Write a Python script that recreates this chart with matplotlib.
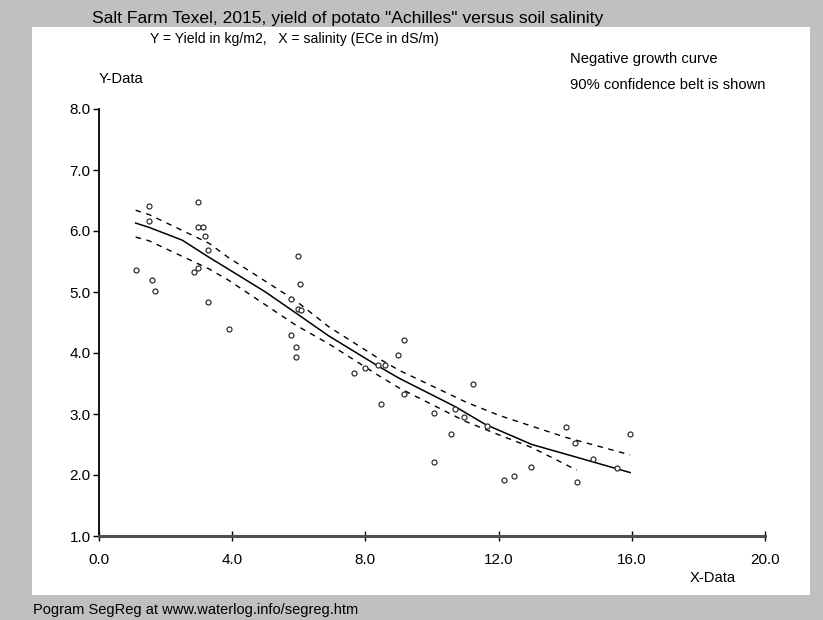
import numpy as np
import matplotlib.pyplot as plt
from matplotlib.patches import Rectangle

plt.rcParams['font.family'] = ['Liberation Sans', 'DejaVu Sans']

# observed points (salinity ECe dS/m, yield kg/m2)
x_obs = [1.11, 1.51, 1.51, 1.58, 1.68, 2.86, 2.98, 2.98, 2.98, 3.11, 3.18, 3.26,
         3.26, 3.90, 5.77, 5.77, 5.91, 5.91, 5.97, 5.99, 6.05, 6.06, 7.66, 7.99,
         8.37, 8.46, 8.59, 8.97, 9.17, 9.17, 10.05, 10.05, 10.57, 10.68, 10.97,
         11.24, 11.66, 12.17, 12.45, 12.96, 14.03, 14.28, 14.36, 14.84, 15.56, 15.95]
y_obs = [5.36, 6.41, 6.17, 5.19, 5.02, 5.32, 6.48, 6.07, 5.39, 6.07, 5.91, 5.69,
         4.84, 4.40, 4.89, 4.30, 4.10, 3.94, 5.59, 4.72, 5.13, 4.70, 3.68, 3.75,
         3.81, 3.16, 3.81, 3.97, 4.21, 3.32, 3.01, 2.22, 2.68, 3.09, 2.95,
         3.49, 2.81, 1.91, 1.98, 2.13, 2.79, 2.52, 1.89, 2.26, 2.11, 2.68]

# fitted negative growth curve
x_fit = [1.1, 1.5, 2.5, 3.3, 3.9, 5.0, 5.9, 6.9, 8.4, 9.0, 10.7, 11.6, 13.0, 14.8, 15.95]
y_fit = [6.13, 6.06, 5.85, 5.57, 5.37, 5.00, 4.66, 4.28, 3.78, 3.59, 3.12, 2.83, 2.50, 2.22, 2.04]

# 90% confidence belt
x_up = [1.1, 1.5, 3.3, 3.9, 5.9, 6.9, 8.4, 9.0, 11.0, 12.0, 14.0, 15.95]
y_up = [6.34, 6.27, 5.80, 5.56, 4.86, 4.43, 3.91, 3.72, 3.20, 2.98, 2.62, 2.33]
x_lo = [1.1, 1.5, 3.3, 3.9, 5.9, 6.9, 8.4, 9.0, 11.0, 12.0, 13.0, 14.35]
y_lo = [5.90, 5.84, 5.38, 5.19, 4.46, 4.15, 3.63, 3.43, 2.88, 2.66, 2.45, 2.08]

xticks = [0, 4, 8, 12, 16, 20]
yticks = [1, 2, 3, 4, 5, 6, 7, 8]

W, H = 823, 620
fig = plt.figure(figsize=(W / 100, H / 100), dpi=100)
fig.patch.set_facecolor('#c0c0c0')

# white panel
fig.add_artist(Rectangle((32 / W, 1 - 595 / H), (810 - 32) / W, (595 - 27) / H,
                         transform=fig.transFigure, facecolor='white',
                         edgecolor='none', zorder=0))

ax = fig.add_axes([99 / W, 1 - 536 / H, 666 / W, 427 / H])
ax.set_facecolor('none')
ax.set_xlim(0, 20)
ax.set_ylim(1, 8)

ax.plot(x_fit, y_fit, color='black', lw=1.1)
ax.plot(x_up, y_up, color='black', lw=1.0, dashes=(4, 4))
ax.plot(x_lo, y_lo, color='black', lw=1.0, dashes=(4, 4))
ax.plot(x_obs, y_obs, 'o', ms=3.6, mfc='white', mec='#303030', mew=0.9,
        clip_on=False)

for s in ['top', 'right']:
    ax.spines[s].set_visible(False)
ax.spines['left'].set_color('black')
ax.spines['left'].set_linewidth(1.3)
ax.spines['bottom'].set_color('#505050')
ax.spines['bottom'].set_linewidth(2.2)

ax.set_xticks(xticks)
ax.set_xticklabels([f'{v:.1f}' for v in xticks])
ax.set_yticks(yticks)
ax.set_yticklabels([f'{v:.1f}' for v in yticks])
ax.tick_params(axis='y', direction='out', length=4, width=1, labelsize=11, pad=2)
ax.tick_params(axis='x', direction='inout', length=7, width=1, labelsize=11, pad=9)

fig.text(348 / W, 1 - 18 / H,
         'Salt Farm Texel, 2015, yield of potato "Achilles" versus soil salinity',
         ha='center', va='center', fontsize=12.6)
fig.text(150 / W, 1 - 39 / H,
         'Y = Yield in kg/m2,   X = salinity (ECe in dS/m)',
         ha='left', va='center', fontsize=10.1)
fig.text(570 / W, 1 - 59 / H, 'Negative growth curve', ha='left', va='center', fontsize=10.6)
fig.text(570 / W, 1 - 85 / H, '90% confidence belt is shown', ha='left', va='center', fontsize=10.6)
fig.text(99 / W, 1 - 79 / H, 'Y-Data', ha='left', va='center', fontsize=10.6)
fig.text(690 / W, 1 - 578 / H, 'X-Data', ha='left', va='center', fontsize=10.6)
fig.text(33 / W, 1 - 610 / H, 'Pogram SegReg at www.waterlog.info/segreg.htm',
         ha='left', va='center', fontsize=10.5)

fig.savefig('out.png', dpi=100, facecolor=fig.get_facecolor())
